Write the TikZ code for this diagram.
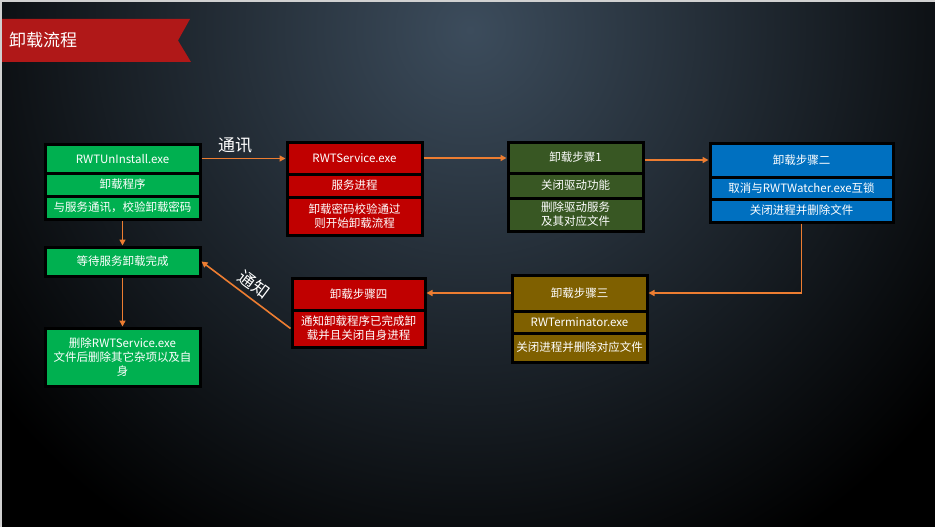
\documentclass[tikz,border=0pt]{standalone}
\usepackage{fontspec}
\setmainfont{Noto Sans CJK SC}
\usetikzlibrary{arrows.meta,calc}
\definecolor{bgc}{HTML}{3C4C5C}
\definecolor{cgreen}{HTML}{00B050}
\definecolor{cred}{HTML}{C00000}
\definecolor{cdkgreen}{HTML}{385723}
\definecolor{colive}{HTML}{7F6000}
\definecolor{cblue}{HTML}{0070C0}
\definecolor{cbanner}{HTML}{B01818}
\definecolor{corange}{HTML}{ED7D31}
\tikzset{
  cell/.style={draw=black, line width=3pt, text=white, inner sep=1pt,
    font=\fontsize{11.5}{14}\selectfont, align=center},
  conn/.style={draw=corange, line width=1.6pt, -{Triangle[length=6pt,width=6pt]}},
  biglabel/.style={text=white, font=\fontsize{17}{20}\selectfont, inner sep=1pt},
}
\begin{document}
\begin{tikzpicture}[x=1pt,y=-1pt]
\useasboundingbox (0,0) rectangle (935,527);
\fill[black] (0,0) rectangle (935,527);
\begin{scope}
  \clip (0,0) rectangle (935,527);
  \shade[inner color=bgc, outer color=black] (470,30) circle (600pt);
\end{scope}
\draw[color=black!18, line width=2pt] (1,527) -- (1,1) -- (935,1);
% banner
\fill[cbanner] (2,19) -- (190,19) -- (178,40.5) -- (191,62) -- (2,62) -- cycle;
\node[biglabel, anchor=west] (title) at (8,40.5) {卸载流程};
% box A
\node[cell, fill=cgreen, minimum width=155pt, minimum height=29pt] (a1) at (122.5,158.5) {RWTUnInstall.exe};
\node[cell, fill=cgreen, minimum width=155pt, minimum height=23pt] (a2) at (122.5,184.5) {卸载程序};
\node[cell, fill=cgreen, minimum width=155pt, minimum height=23pt] (a3) at (122.5,207.5) {与服务通讯，校验卸载密码};
\node[cell, fill=cgreen, minimum width=155pt, minimum height=29pt] (w) at (122.5,261.5) {等待服务卸载完成};
\node[cell, fill=cgreen, minimum width=155pt, minimum height=58pt] (fin) at (122.5,357) {删除RWTService.exe\\文件后删除其它杂项以及自\\身};
% service
\node[cell, fill=cred, minimum width=135pt, minimum height=32pt] (s1) at (354.5,158) {RWTService.exe};
\node[cell, fill=cred, minimum width=135pt, minimum height=23pt] (s2) at (354.5,185.5) {服务进程};
\node[cell, fill=cred, minimum width=135pt, minimum height=38pt] (s3) at (354.5,216) {卸载密码校验通过\\则开始卸载流程};
% step 1
\node[cell, fill=cdkgreen, minimum width=135pt, minimum height=31pt] (p1) at (575.5,157.5) {卸载步骤1};
\node[cell, fill=cdkgreen, minimum width=135pt, minimum height=25pt] (p2) at (575.5,185.5) {关闭驱动功能};
\node[cell, fill=cdkgreen, minimum width=135pt, minimum height=33pt] (p3) at (575.5,214.5) {删除驱动服务\\及其对应文件};
% step 2
\node[cell, fill=cblue, minimum width=183pt, minimum height=34pt] (b1) at (801.5,160) {卸载步骤二};
\node[cell, fill=cblue, minimum width=183pt, minimum height=22pt] (b2) at (801.5,188) {取消与RWTWatcher.exe互锁};
\node[cell, fill=cblue, minimum width=183pt, minimum height=23pt] (b3) at (801.5,210.5) {关闭进程并删除文件};
% step 3
\node[cell, fill=colive, minimum width=135pt, minimum height=36pt] (t1) at (579.5,293) {卸载步骤三};
\node[cell, fill=colive, minimum width=135pt, minimum height=22pt] (t2) at (579.5,322) {RWTerminator.exe};
\node[cell, fill=colive, minimum width=135pt, minimum height=29pt] (t3) at (579.5,347.5) {关闭进程并删除对应文件};
% step 4
\node[cell, fill=cred, minimum width=133pt, minimum height=32pt] (f1) at (358.5,294) {卸载步骤四};
\node[cell, fill=cred, minimum width=133pt, minimum height=37pt] (f2) at (358.5,328.5) {通知卸载程序已完成卸\\载并且关闭自身进程};
% connectors
\draw[conn] (a1.east) -- node[biglabel, above=4pt, pos=0.4] (lt) {通讯} (a1.east -| s1.west);
\draw[conn] (s1.east) -- (s1.east -| p1.west);
\draw[conn] (p1.east |- b1.west) -- (b1.west);
\draw[conn] (b3.south) |- (t1.east);
\draw[conn] (t1.west) -- (t1.west -| f1.east);
\draw[conn] (f2.west) -- node[biglabel, sloped, above=4pt, pos=0.5] (ln) {通知} (w.east);
\draw[conn] (a3.south) -- (w.north);
\draw[conn] (w.south) -- (fin.north);
\end{tikzpicture}
\end{document}
